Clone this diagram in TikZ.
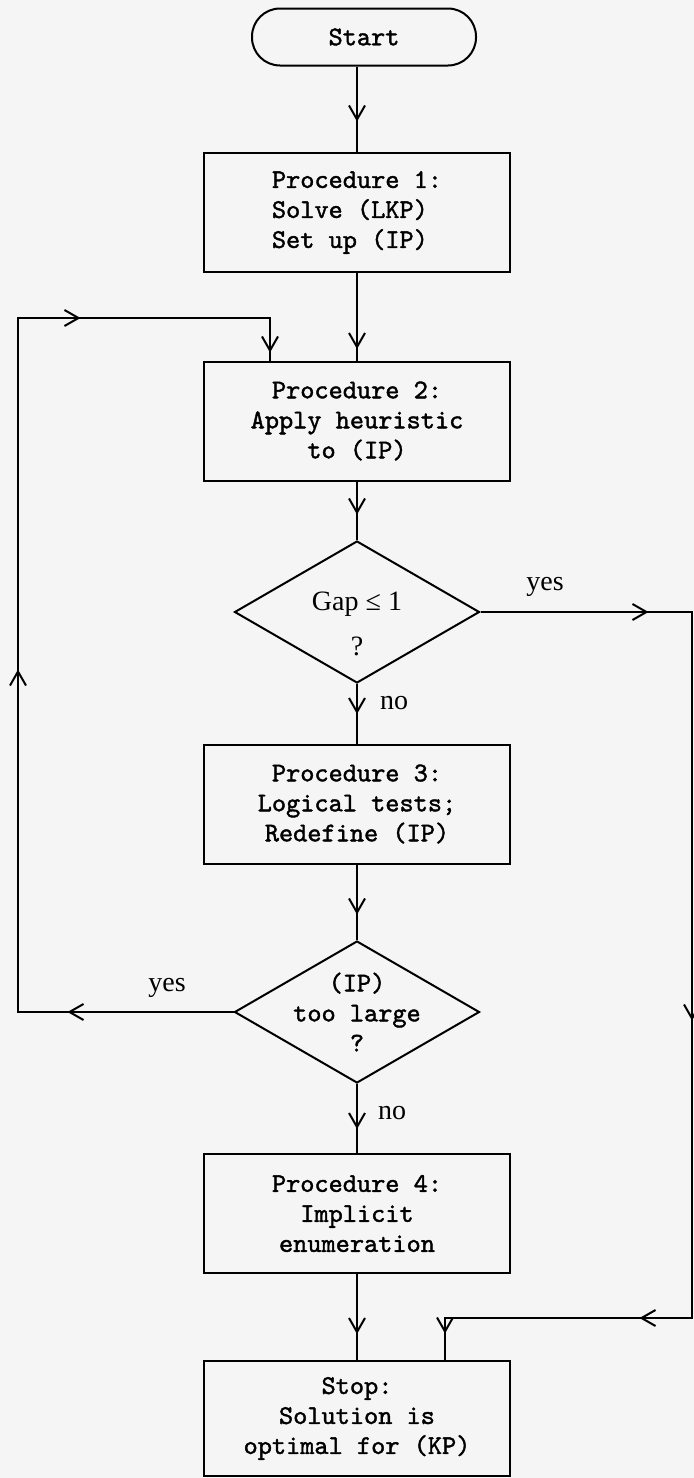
\documentclass[tikz,border=0pt]{standalone}
\usepackage{fontspec}
\setmainfont{Liberation Serif}
\newfontfamily\tw{lmmono10-regular.otf}[FakeBold=1.5]
\usetikzlibrary{arrows.meta,shapes.geometric,decorations.markings}

\begin{document}
\begin{tikzpicture}[x=0.5pt,y=-0.5pt,
  every node/.style={inner sep=0pt},
  >={Straight Barb[length=7pt,width=8pt]},
  twfont/.style={font=\tw\fontsize{13.5pt}{15pt}\selectfont},
  proc/.style={draw, line width=1pt, minimum width=153pt, minimum height=59.5pt, twfont, align=center},
  decision/.style={diamond, draw, line width=1pt, minimum width=122.5pt, minimum height=71pt},
  lbl/.style={font=\fontsize{14pt}{16pt}\selectfont},
  link/.style={line width=1pt},
  tipat/.style={postaction={decorate, decoration={markings, mark=at position #1 with {\arrow{>}}}}}]

% page and background
\fill[black!4] (0,0) rectangle (694,1478);
\useasboundingbox (0,0) rectangle (694,1478);

% main column
\node[draw, line width=1pt, rounded corners=14pt, minimum width=112pt, minimum height=28.5pt, twfont] (start) at (364,37) {Start};
\node[proc, align=left] (p1) at (357,212.5) {Procedure 1:\\Solve (LKP)\\Set up (IP)};
\node[proc] (p2) at (357,421) {Procedure 2:\\Apply heuristic\\to (IP)};
\node[decision] (d1) at (357,612) {};
\node[lbl, align=center, font=\fontsize{14pt}{22.5pt}\selectfont] (d1t) at (357,624) {Gap ≤ 1\\?};
\node[proc] (p3) at (357,804) {Procedure 3:\\Logical tests;\\Redefine (IP)};
\node[decision] (d2) at (357,1012) {};
\node[twfont, align=center] (d2t) at (357,1012) {(IP)\\too large\\?};
\node[proc] (p4) at (357,1213.5) {Procedure 4:\\Implicit\\enumeration};
\node[proc, minimum height=57.5pt] (stop) at (357,1418.5) {Stop:\\Solution is\\optimal for (KP)};

% branch labels
\node[lbl] (y1) at (545,587) {yes};
\node[lbl] (n1) at (394,703) {no};
\node[lbl] (y2) at (167,988) {yes};
\node[lbl] (n2) at (392,1113) {no};

% corners of the two return paths
\coordinate (lb) at (18,1012);
\coordinate (lt) at (18,318);
\coordinate (lt2) at (270,318);
\coordinate (rt) at (692,612);
\coordinate (rb) at (692,1318);
\coordinate (rb2) at (445,1318);

% straight connectors
\draw[link, tipat=27.5pt] (start.south -| p1.north) -- (p1.north);
\draw[link, tipat=38pt] (p1) -- (p2);
\draw[link, tipat=16.5pt] (p2) -- (d1);
\draw[link, tipat=15pt] (d1) -- (p3);
\draw[link, tipat=25pt] (p3) -- (d2);
\draw[link, tipat=22.5pt] (d2) -- (p4);
\draw[link, tipat=30pt] (p4) -- (stop);

% loop back to procedure 2
\draw[link, tipat=83pt, tipat=279pt, tipat=486pt, tipat=598pt]
  (d2.west) -- (lb) -- (lt) -- (lt2) -- (lt2 |- p2.north);

% exit to stop
\draw[link, tipat=84pt, tipat=310pt, tipat=485pt, tipat=590pt]
  (d1.east) -- (rt) -- (rb) -- (rb2) -- (rb2 |- stop.north);
\end{tikzpicture}
\end{document}
